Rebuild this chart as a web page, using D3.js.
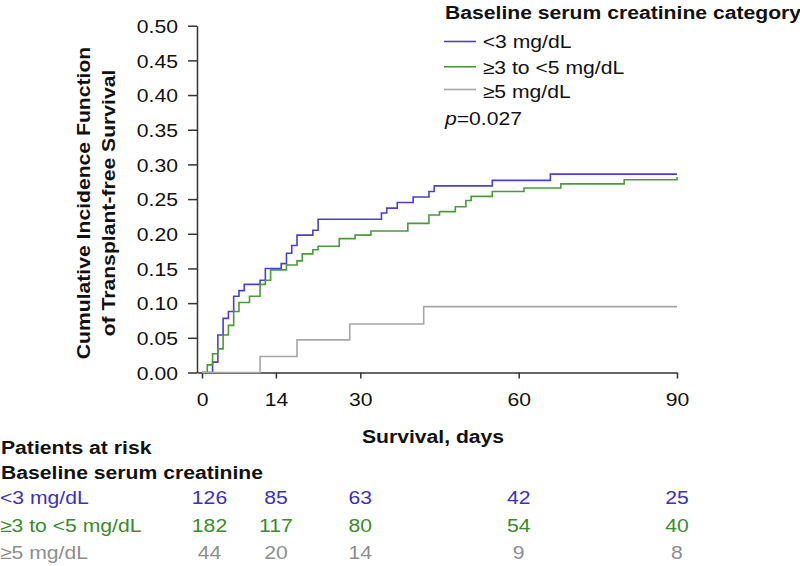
<!DOCTYPE html>
<html>
<head>
<meta charset="utf-8">
<script src="https://cdn.jsdelivr.net/npm/d3@7"></script>
<style>
  body { margin: 0; background: #fff; }
  text { font-family: "Liberation Sans", Arial, Helvetica, sans-serif; }
</style>
</head>
<body>
<script>
// Groups and at-risk table
const groups = ["<3 mg/dL", "\u22653 to <5 mg/dL", "\u22655 mg/dL"];
const riskDays = [0, 14, 30, 60, 90];
const riskLow = [126, 85, 63, 42, 25];
const riskMid = [182, 117, 80, 54, 40];
const riskHigh = [44, 20, 14, 9, 8];

// Cumulative incidence step curves (event day, value after the step)
const lowDays = [2, 3, 4, 5, 6, 7, 8, 11, 12, 15, 16, 17, 18, 21, 22, 34, 35, 37, 40, 43, 44, 55, 66];
const lowCif = [0.015, 0.054, 0.078, 0.088, 0.110, 0.118, 0.127, 0.133, 0.150, 0.157, 0.172, 0.183, 0.198, 0.205, 0.221, 0.230, 0.237, 0.245, 0.253, 0.261, 0.269, 0.277, 0.286];
const midDays = [1, 2, 3, 4, 5, 6, 7, 9, 11, 12, 13, 16, 18, 19, 21, 22, 26, 29, 32, 39, 43, 45, 48, 50, 51, 55, 61, 68, 80, 90];
const midCif = [0.011, 0.027, 0.034, 0.054, 0.068, 0.088, 0.101, 0.110, 0.127, 0.133, 0.148, 0.155, 0.161, 0.171, 0.177, 0.182, 0.193, 0.198, 0.204, 0.215, 0.227, 0.232, 0.239, 0.248, 0.254, 0.261, 0.266, 0.272, 0.278, 0.282];
const highDays = [11, 18, 28, 42];
const highCif = [0.023, 0.047, 0.070, 0.095];

const xTicks = [0, 14, 30, 60, 90];
const yTicks = [0, 0.05, 0.10, 0.15, 0.20, 0.25, 0.30, 0.35, 0.40, 0.45, 0.50];
const pText = "=0.027";

const colors = ["#4a40cc", "#4a9a3a", "#a6a6a6"];
const textColors = ["#3b30bb", "#3a8a2c", "#8e8e8e"];

const width = 800, height = 566;
const S = 1.15;        // horizontal stretch of the lettering
const fs = 18.4;

const svg = d3.select("body").append("svg")
  .attr("width", width)
  .attr("height", height);

const x = d3.scaleLinear().domain([-0.95, 90]).range([197, 677]);
const y = d3.scaleLinear().domain([0, 0.5]).range([372.5, 25.7]);

function addText(g, tx, ty, str, opts = {}) {
  return g.append("text")
    .attr("x", tx / S)
    .attr("y", ty)
    .attr("transform", `scale(${S},1)`)
    .attr("font-size", fs)
    .attr("font-weight", opts.bold ? "bold" : "normal")
    .attr("text-anchor", opts.anchor || "start")
    .attr("fill", opts.color || "#111")
    .text(str);
}

// Y axis
const yAxis = svg.append("g")
  .attr("transform", `translate(${x(-0.95)},0)`)
  .call(d3.axisLeft(y).tickValues(yTicks).tickFormat(d3.format(".2f")).tickSize(9).tickSizeOuter(0));
yAxis.selectAll("text")
  .attr("x", -19 / S)
  .attr("dy", "0.36em")
  .attr("transform", `scale(${S},1)`)
  .attr("font-size", fs)
  .attr("font-family", null)
  .attr("fill", "#111");

// X axis
const xAxis = svg.append("g")
  .attr("transform", `translate(0,${y(0)})`)
  .call(d3.axisBottom(x).tickValues(xTicks).tickSize(6).tickSizeOuter(0));
xAxis.selectAll("text")
  .attr("y", 33.5)
  .attr("dy", 0)
  .attr("transform", `scale(${S},1)`)
  .attr("x", 0)
  .attr("font-size", fs)
  .attr("font-family", null)
  .attr("fill", "#111");
svg.selectAll(".domain, .tick line").attr("stroke", "#333").attr("stroke-width", 1.5);

// Y axis title
const yt = svg.append("g").attr("transform", "translate(90,203) rotate(-90)");
yt.append("text").attr("transform", `scale(${S},1)`).attr("text-anchor", "middle")
  .attr("font-size", fs).attr("font-weight", "bold").attr("fill", "#111")
  .text("Cumulative Incidence Function");
yt.append("text").attr("transform", `scale(${S},1)`).attr("y", 25).attr("text-anchor", "middle")
  .attr("font-size", fs).attr("font-weight", "bold").attr("fill", "#111")
  .text("of Transplant-free Survival");

// X axis title
addText(svg, 433, 443, "Survival, days", { bold: true, anchor: "middle" });

// Curves
const curves = [
  { days: lowDays, cif: lowCif },
  { days: midDays, cif: midCif },
  { days: highDays, cif: highCif }
];
const line = d3.line()
  .x(d => x(d[0]))
  .y(d => y(d[1]))
  .curve(d3.curveStepAfter);

curves.forEach((c, i) => {
  const pts = [[0, 0]];
  c.days.forEach((d, j) => pts.push([d, c.cif[j]]));
  const last = pts[pts.length - 1];
  if (last[0] < 90) pts.push([90, last[1]]);
  svg.append("path")
    .datum(pts)
    .attr("d", line)
    .attr("fill", "none")
    .attr("stroke", colors[i])
    .attr("stroke-width", 1.6);
});

// Legend
addText(svg, 445, 19, "Baseline serum creatinine category", { bold: true });
const legY = [41.5, 66.8, 89.5];
const legBase = [48.5, 74, 98.5];
groups.forEach((gname, i) => {
  svg.append("line")
    .attr("x1", 444).attr("x2", 476)
    .attr("y1", legY[i]).attr("y2", legY[i])
    .attr("stroke", colors[i]).attr("stroke-width", 1.6);
  addText(svg, 482.7, legBase[i], gname);
});
const pt = addText(svg, 445, 125.5, "");
pt.append("tspan").attr("font-style", "italic").text("p");
pt.append("tspan").text(pText);

// Patients at risk table
addText(svg, 1, 454, "Patients at risk", { bold: true });
addText(svg, 1, 479, "Baseline serum creatinine", { bold: true });
const rows = [riskLow, riskMid, riskHigh];
const rowBase = [504, 531.8, 559.5];
rows.forEach((vals, i) => {
  addText(svg, 0, rowBase[i], groups[i], { color: textColors[i] });
  vals.forEach((v, j) => {
    const cx = x(riskDays[j]) + (riskDays[j] === 0 ? 7.5 : 0);
    addText(svg, cx, rowBase[i], v, { anchor: "middle", color: textColors[i] });
  });
});
</script>
</body>
</html>
